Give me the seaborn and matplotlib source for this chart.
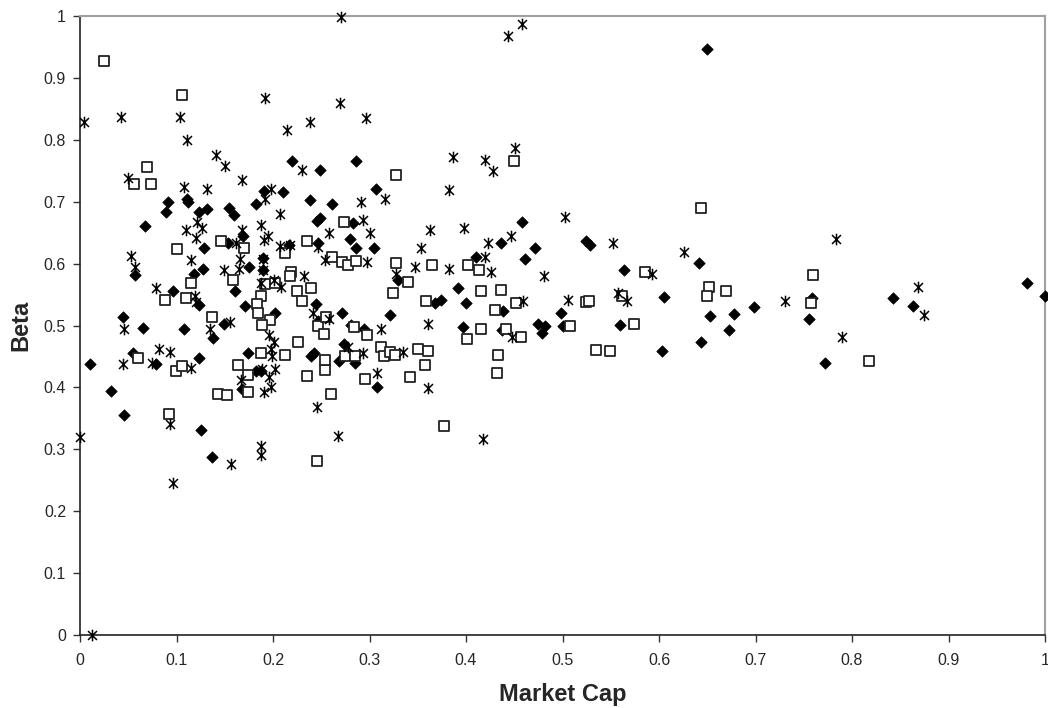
import numpy as np
import pandas as pd
import seaborn as sns
import matplotlib
matplotlib.use('Agg')
import matplotlib.pyplot as plt
from matplotlib.path import Path
from matplotlib.ticker import FuncFormatter

# filled diamonds
diamond_cap = [0.22, 0.249, 0.191, 0.21, 0.238, 0.091, 0.089, 0.111, 0.112, 0.123, 0.132, 0.154, 0.16,
               0.182, 0.067, 0.249, 0.246, 0.169, 0.217, 0.247, 0.153, 0.129, 0.19, 0.175, 0.19, 0.127,
               0.118, 0.057, 0.096, 0.161, 0.123, 0.171, 0.245, 0.202, 0.045, 0.065, 0.108, 0.149, 0.247,
               0.138, 0.055, 0.01, 0.079, 0.123, 0.174, 0.182, 0.188, 0.168, 0.032, 0.046, 0.125, 0.137,
               0.239, 0.242, 0.286, 0.307, 0.261, 0.283, 0.28, 0.286, 0.305, 0.458, 0.471, 0.436, 0.461,
               0.41, 0.524, 0.33, 0.392, 0.368, 0.374, 0.40, 0.438, 0.271, 0.321, 0.498, 0.397, 0.475,
               0.482, 0.50, 0.281, 0.294, 0.437, 0.479, 0.274, 0.268, 0.285, 0.308, 0.529, 0.641, 0.564,
               0.605, 0.56, 0.653, 0.678, 0.698, 0.673, 0.644, 0.603, 0.755, 0.759, 0.772, 0.842, 0.863,
               0.981, 1.0, 0.65]
diamond_beta = [0.765, 0.751, 0.718, 0.715, 0.703, 0.699, 0.684, 0.704, 0.70, 0.684, 0.689, 0.69, 0.679,
                0.697, 0.66, 0.673, 0.669, 0.644, 0.63, 0.634, 0.634, 0.625, 0.609, 0.595, 0.59, 0.591,
                0.583, 0.582, 0.556, 0.556, 0.533, 0.532, 0.534, 0.521, 0.513, 0.496, 0.495, 0.502, 0.508,
                0.479, 0.456, 0.438, 0.438, 0.447, 0.456, 0.427, 0.427, 0.398, 0.394, 0.355, 0.331, 0.287,
                0.451, 0.455, 0.765, 0.721, 0.697, 0.665, 0.639, 0.626, 0.626, 0.668, 0.626, 0.634, 0.607,
                0.61, 0.637, 0.574, 0.561, 0.536, 0.541, 0.537, 0.524, 0.52, 0.517, 0.52, 0.498, 0.503,
                0.499, 0.499, 0.501, 0.495, 0.493, 0.488, 0.47, 0.443, 0.44, 0.40, 0.63, 0.601, 0.589,
                0.546, 0.501, 0.516, 0.519, 0.53, 0.493, 0.474, 0.459, 0.511, 0.544, 0.44, 0.545, 0.532,
                0.569, 0.548, 0.947]

# open squares
square_cap = [0.025, 0.106, 0.069, 0.056, 0.074, 0.146, 0.17, 0.235, 0.101, 0.212, 0.159, 0.115, 0.192,
              0.202, 0.219, 0.218, 0.225, 0.239, 0.23, 0.188, 0.183, 0.184, 0.088, 0.11, 0.197, 0.137,
              0.189, 0.247, 0.255, 0.253, 0.06, 0.099, 0.106, 0.164, 0.174, 0.188, 0.212, 0.226, 0.235,
              0.254, 0.254, 0.143, 0.152, 0.174, 0.092, 0.246, 0.327, 0.45, 0.274, 0.261, 0.272, 0.278,
              0.286, 0.327, 0.365, 0.402, 0.413, 0.34, 0.324, 0.416, 0.436, 0.359, 0.452, 0.43, 0.524,
              0.284, 0.416, 0.441, 0.508, 0.297, 0.312, 0.315, 0.321, 0.326, 0.35, 0.361, 0.358, 0.342,
              0.275, 0.285, 0.295, 0.26, 0.377, 0.401, 0.457, 0.433, 0.432, 0.585, 0.527, 0.562, 0.574,
              0.535, 0.549, 0.652, 0.65, 0.669, 0.76, 0.758, 0.818, 0.644]
square_beta = [0.928, 0.872, 0.756, 0.729, 0.728, 0.637, 0.626, 0.637, 0.624, 0.617, 0.574, 0.569, 0.567,
               0.568, 0.587, 0.58, 0.556, 0.56, 0.54, 0.547, 0.535, 0.521, 0.541, 0.544, 0.509, 0.513,
               0.501, 0.499, 0.514, 0.486, 0.447, 0.426, 0.435, 0.436, 0.42, 0.455, 0.452, 0.473, 0.418,
               0.428, 0.444, 0.389, 0.388, 0.392, 0.357, 0.281, 0.743, 0.765, 0.668, 0.611, 0.603, 0.597,
               0.605, 0.601, 0.598, 0.598, 0.59, 0.571, 0.553, 0.556, 0.558, 0.539, 0.537, 0.525, 0.538,
               0.498, 0.495, 0.495, 0.499, 0.484, 0.465, 0.45, 0.457, 0.453, 0.462, 0.459, 0.436, 0.416,
               0.451, 0.45, 0.413, 0.389, 0.338, 0.478, 0.482, 0.453, 0.423, 0.586, 0.539, 0.547, 0.502,
               0.46, 0.459, 0.562, 0.548, 0.556, 0.581, 0.536, 0.442, 0.69]

# asterisks
star_cap = [0.0, 0.012, 0.004, 0.042, 0.05, 0.104, 0.111, 0.192, 0.215, 0.238, 0.141, 0.15, 0.23, 0.168,
            0.108, 0.132, 0.198, 0.192, 0.207, 0.11, 0.121, 0.126, 0.12, 0.168, 0.188, 0.195, 0.191, 0.207,
            0.218, 0.247, 0.162, 0.053, 0.057, 0.115, 0.166, 0.165, 0.149, 0.19, 0.19, 0.232, 0.201, 0.208,
            0.188, 0.079, 0.119, 0.12, 0.241, 0.155, 0.135, 0.046, 0.045, 0.082, 0.093, 0.075, 0.115, 0.196,
            0.201, 0.198, 0.199, 0.202, 0.196, 0.198, 0.191, 0.167, 0.189, 0.093, 0.188, 0.188, 0.156,
            0.096, 0.246, 0.27, 0.444, 0.458, 0.269, 0.296, 0.387, 0.42, 0.428, 0.451, 0.382, 0.316, 0.291,
            0.293, 0.258, 0.30, 0.363, 0.398, 0.353, 0.423, 0.447, 0.503, 0.42, 0.426, 0.297, 0.254, 0.347,
            0.382, 0.327, 0.481, 0.459, 0.506, 0.258, 0.312, 0.361, 0.278, 0.293, 0.335, 0.308, 0.361,
            0.448, 0.267, 0.418, 0.552, 0.626, 0.783, 0.593, 0.557, 0.567, 0.731, 0.868, 0.875, 0.79]
star_beta = [0.32, 0.0, 0.829, 0.837, 0.738, 0.837, 0.80, 0.867, 0.816, 0.828, 0.776, 0.757, 0.752, 0.735,
             0.723, 0.721, 0.721, 0.705, 0.68, 0.654, 0.668, 0.657, 0.641, 0.654, 0.662, 0.645, 0.638, 0.628,
             0.63, 0.627, 0.633, 0.612, 0.595, 0.606, 0.607, 0.591, 0.589, 0.607, 0.59, 0.58, 0.573, 0.562,
             0.568, 0.56, 0.548, 0.538, 0.521, 0.505, 0.495, 0.495, 0.437, 0.462, 0.457, 0.44, 0.431, 0.484,
             0.473, 0.462, 0.45, 0.429, 0.416, 0.401, 0.393, 0.412, 0.429, 0.341, 0.305, 0.291, 0.277,
             0.245, 0.369, 0.999, 0.968, 0.987, 0.86, 0.835, 0.772, 0.767, 0.749, 0.786, 0.719, 0.704, 0.699,
             0.671, 0.649, 0.649, 0.655, 0.657, 0.626, 0.633, 0.644, 0.675, 0.611, 0.587, 0.603, 0.606, 0.595,
             0.592, 0.584, 0.58, 0.539, 0.542, 0.51, 0.495, 0.503, 0.465, 0.455, 0.457, 0.424, 0.399,
             0.482, 0.322, 0.317, 0.634, 0.618, 0.639, 0.584, 0.552, 0.539, 0.539, 0.562, 0.517, 0.482]

sns.set_style('white')
plt.rcParams['font.family'] = ['Liberation Sans', 'DejaVu Sans']

# asterisk marker like the spreadsheet one: an X with a vertical bar
asterisk = Path([(-1, -1), (1, 1), (-1, 1), (1, -1), (0, -1.3), (0, 1.3)],
                [Path.MOVETO, Path.LINETO, Path.MOVETO, Path.LINETO, Path.MOVETO, Path.LINETO])

fig = plt.figure(figsize=(10.48, 7.08), dpi=100)
ax = fig.add_axes([80 / 1048, 73 / 708, 965 / 1048, 619 / 708])

sns.scatterplot(x=diamond_cap, y=diamond_beta, marker='D', s=34, color='black',
                edgecolor='black', linewidth=0.5, ax=ax, clip_on=False, zorder=3)
sns.scatterplot(x=square_cap, y=square_beta, marker='s', s=50, facecolor='white',
                edgecolor='#222222', linewidth=1.3, ax=ax, clip_on=False, zorder=3)
sns.scatterplot(x=star_cap, y=star_beta, marker=asterisk, s=70, color='black',
                edgecolor='black', linewidth=1.1, ax=ax, clip_on=False, zorder=3)

ax.set_xlim(0, 1)
ax.set_ylim(0, 1)
ax.set_xticks(np.arange(0, 1.01, 0.1))
ax.set_yticks(np.arange(0, 1.01, 0.1))
fmt = FuncFormatter(lambda v, p: f'{v:.1f}'.rstrip('0').rstrip('.') if v else '0')
ax.xaxis.set_major_formatter(fmt)
ax.yaxis.set_major_formatter(fmt)
ax.tick_params(axis='both', direction='out', length=5, width=1, color='#333333',
               labelsize=11.5, bottom=True, left=True)
ax.tick_params(axis='x', pad=8)
ax.tick_params(axis='y', pad=5)

for side in ['left', 'bottom']:
    ax.spines[side].set_color('#222222')
    ax.spines[side].set_linewidth(1.2)
for side in ['top', 'right']:
    ax.spines[side].set_visible(True)
    ax.spines[side].set_color('#a0a0a0')
    ax.spines[side].set_linewidth(1.5)

ax.set_xlabel('Market Cap', fontsize=17, fontweight='bold')
ax.set_ylabel('Beta', fontsize=17, fontweight='bold')
ax.xaxis.set_label_coords(0.5, -0.077)
ax.yaxis.set_label_coords(-0.049, 0.5)

fig.savefig('out.png', dpi=100)
